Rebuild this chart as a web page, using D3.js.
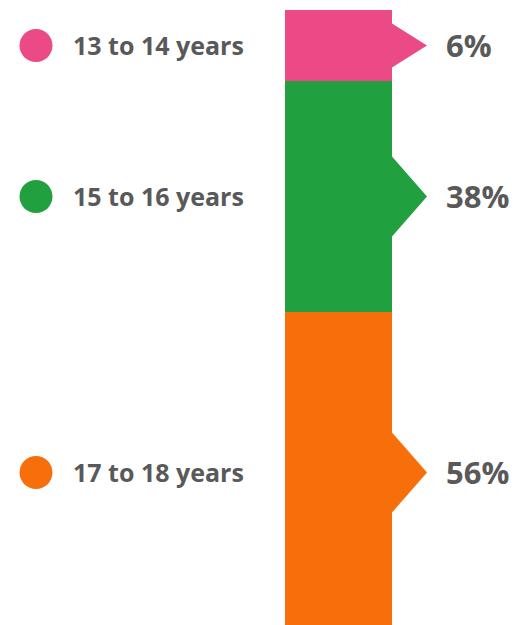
<!DOCTYPE html>
<html>
<head>
<meta charset="utf-8">
<script src="https://cdn.jsdelivr.net/npm/d3@7"></script>
<style>
  body { margin: 0; background: #fff; }
  #canvas { width: 516px; height: 625px; overflow: hidden; }
  text { font-family: "Open Sans", sans-serif; font-weight: 700; fill: #595959; }
</style>
</head>
<body>
<div id="canvas"></div>
<script>
// data
var categories = ["13 to 14 years", "15 to 16 years", "17 to 18 years"];
var shares = [6, 38, 56];
var valueLabels = ["6%", "38%", "56%"];
var colors = ["#ec4a87", "#21a03f", "#f76f0b"];

var ChartUtil = {
  generateStackedBar: function() {
    var width = 516,
      height = 625,
      top = 10,
      barLeft = 285,
      barRight = 392,
      arrowDepth = 35,
      minH = 41;

    var svg = d3.select("#canvas").append("svg")
      .attr("width", width)
      .attr("height", height);

    // each slice gets a minimum height plus a share of the rest
    var h = d3.scaleLinear()
      .domain([0, 100])
      .range([0, 500]);

    var y0 = top;
    var data = shares.map(function(v, i) {
      var sh = minH + h(v);
      var d = { name: categories[i], label: valueLabels[i], color: colors[i], y0: y0, y1: y0 + sh };
      y0 += sh;
      return d;
    });

    // bar slices with an arrow pointing at the label
    svg.selectAll(".slice")
      .data(data)
      .enter().append("path")
      .attr("class", "slice")
      .attr("fill", function(d) { return d.color; })
      .attr("d", function(d) {
        var mid = (d.y0 + d.y1) / 2,
          half = Math.min(40, (d.y1 - d.y0) * 0.31);
        return "M" + barLeft + "," + d.y0 +
          "L" + barRight + "," + d.y0 +
          "L" + barRight + "," + (mid - half) +
          "L" + (barRight + arrowDepth) + "," + mid +
          "L" + barRight + "," + (mid + half) +
          "L" + barRight + "," + d.y1 +
          "L" + barLeft + "," + d.y1 + "Z";
      });

    // percentages
    svg.selectAll(".pct")
      .data(data)
      .enter().append("text")
      .attr("class", "pct")
      .attr("x", 446)
      .attr("y", function(d) { return (d.y0 + d.y1) / 2; })
      .attr("dy", "0.36em")
      .style("font-size", "31px")
      .text(function(d) { return d.label; });

    // legend
    var legend = svg.selectAll(".legend")
      .data(data)
      .enter().append("g")
      .attr("class", "legend")
      .attr("transform", function(d) {
        return "translate(0," + (d.y0 + d.y1) / 2 + ")";
      });

    legend.append("circle")
      .attr("cx", 36)
      .attr("cy", 0)
      .attr("r", 16.5)
      .attr("fill", function(d) { return d.color; });

    legend.append("text")
      .attr("x", 73)
      .attr("dy", "0.36em")
      .style("font-size", "25px")
      .text(function(d) { return d.name; });
  }
};
ChartUtil.generateStackedBar();
</script>
</body>
</html>
